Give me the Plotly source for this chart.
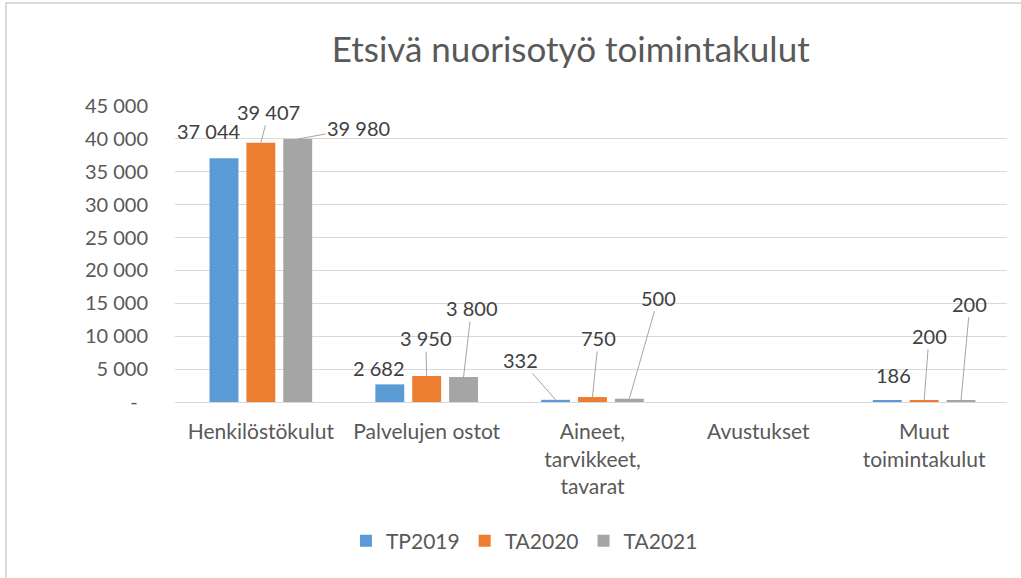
import plotly.graph_objects as go

# --- data -------------------------------------------------------------------
categories = [
    "Henkilöstökulut",
    "Palvelujen ostot",
    "Aineet,<br>tarvikkeet,<br>tavarat",
    "Avustukset",
    "Muut<br>toimintakulut",
]
series_names = ["TP2019", "TA2020", "TA2021"]
tp2019 = [37044, 2682, 332, None, 186]
ta2020 = [39407, 3950, 750, None, 200]
ta2021 = [39980, 3800, 500, None, 200]

y_tick_values = [0, 5000, 10000, 15000, 20000, 25000, 30000, 35000, 40000, 45000]
y_tick_labels = ["-\u00a0\u00a0", "5 000", "10 000", "15 000", "20 000",
                 "25 000", "30 000", "35 000", "40 000", "45 000"]

# --- styling ----------------------------------------------------------------
colors = ["#5B9BD5", "#ED7D31", "#A5A5A5"]
FONT = "Lato"
TEXT_GREY = "#595959"
LABEL_GREY = "#404040"
GRID = "#D9D9D9"
BARGAP = 0.333
BARGROUPGAP = 0.216

# data-label placement: pixel offset of the label centre from the bar top,
# and whether a leader line joins them
label_layout = {
    "TP2019": [(-15, -27, False), (-11, -16, False), (-35, -40, True), None, (6, -26, False)],
    "TA2020": [(8, -31, True), (-1, -38, True), (6, -59, True), None, (5, -65, True)],
    "TA2021": [(61, -11, True), (8, -69, True), (29, -101, True), None, (9, -97, True)],
}

values = [tp2019, ta2020, ta2021]

fig = go.Figure()
for name, vals, col in zip(series_names, values, colors):
    fig.add_trace(go.Bar(name=name, x=categories, y=vals, marker_color=col,
                         marker_line_width=0))

# slot width of one bar inside a category group (in category units)
slot = (1 - BARGAP) / len(series_names)
annotations = []
for j, (name, vals) in enumerate(zip(series_names, values)):
    offset = (j - (len(series_names) - 1) / 2) * slot
    for i, v in enumerate(vals):
        if v is None:
            continue
        dx, dy, leader = label_layout[name][i]
        annotations.append(dict(
            x=i + offset, y=v, xref="x", yref="y",
            text=f"{v:,}".replace(",", " "),
            showarrow=True, arrowhead=0, arrowwidth=1, standoff=0,
            arrowcolor="#A6A6A6" if leader else "rgba(0,0,0,0)",
            ax=dx, ay=dy,
            font=dict(family=FONT, size=20, color=LABEL_GREY),
        ))

fig.update_layout(
    width=1021, height=578,
    margin=dict(l=175, r=14, t=106, b=176),
    paper_bgcolor="white", plot_bgcolor="white",
    barmode="group", bargap=BARGAP, bargroupgap=BARGROUPGAP,
    font=dict(family=FONT, size=21, color=TEXT_GREY),
    title=dict(text="Etsivä nuorisotyö toimintakulut", x=0.559, xanchor="center",
               xref="container", y=1 - 50 / 578, yanchor="middle",
               yref="container",
               font=dict(family=FONT, size=35, color=TEXT_GREY)),
    showlegend=True,
    legend=dict(orientation="h", x=0.42, xanchor="center", y=-0.47,
                yanchor="middle", font=dict(family=FONT, size=21, color=TEXT_GREY),
                traceorder="normal"),
    annotations=annotations,
    shapes=[dict(type="rect", xref="paper", yref="paper",
                 x0=(6 - 175) / 832, x1=1.2, y0=-1.0, y1=(402 - 3) / 296,
                 line=dict(color="#D0D0D0", width=1.5), fillcolor="rgba(0,0,0,0)",
                 layer="below")],
)
fig.update_xaxes(showgrid=False, showline=True, linecolor=GRID, linewidth=1,
                 ticks="", ticklabelstandoff=11,
                 tickfont=dict(family=FONT, size=21, color=TEXT_GREY))
fig.update_yaxes(range=[0, 45000], tickvals=y_tick_values, ticktext=y_tick_labels,
                 showgrid=True, gridcolor=GRID, gridwidth=1, zeroline=False,
                 showline=False, ticks="", ticklabelstandoff=26,
                 tickfont=dict(family=FONT, size=20, color=TEXT_GREY))

fig.write_html("out.html")
